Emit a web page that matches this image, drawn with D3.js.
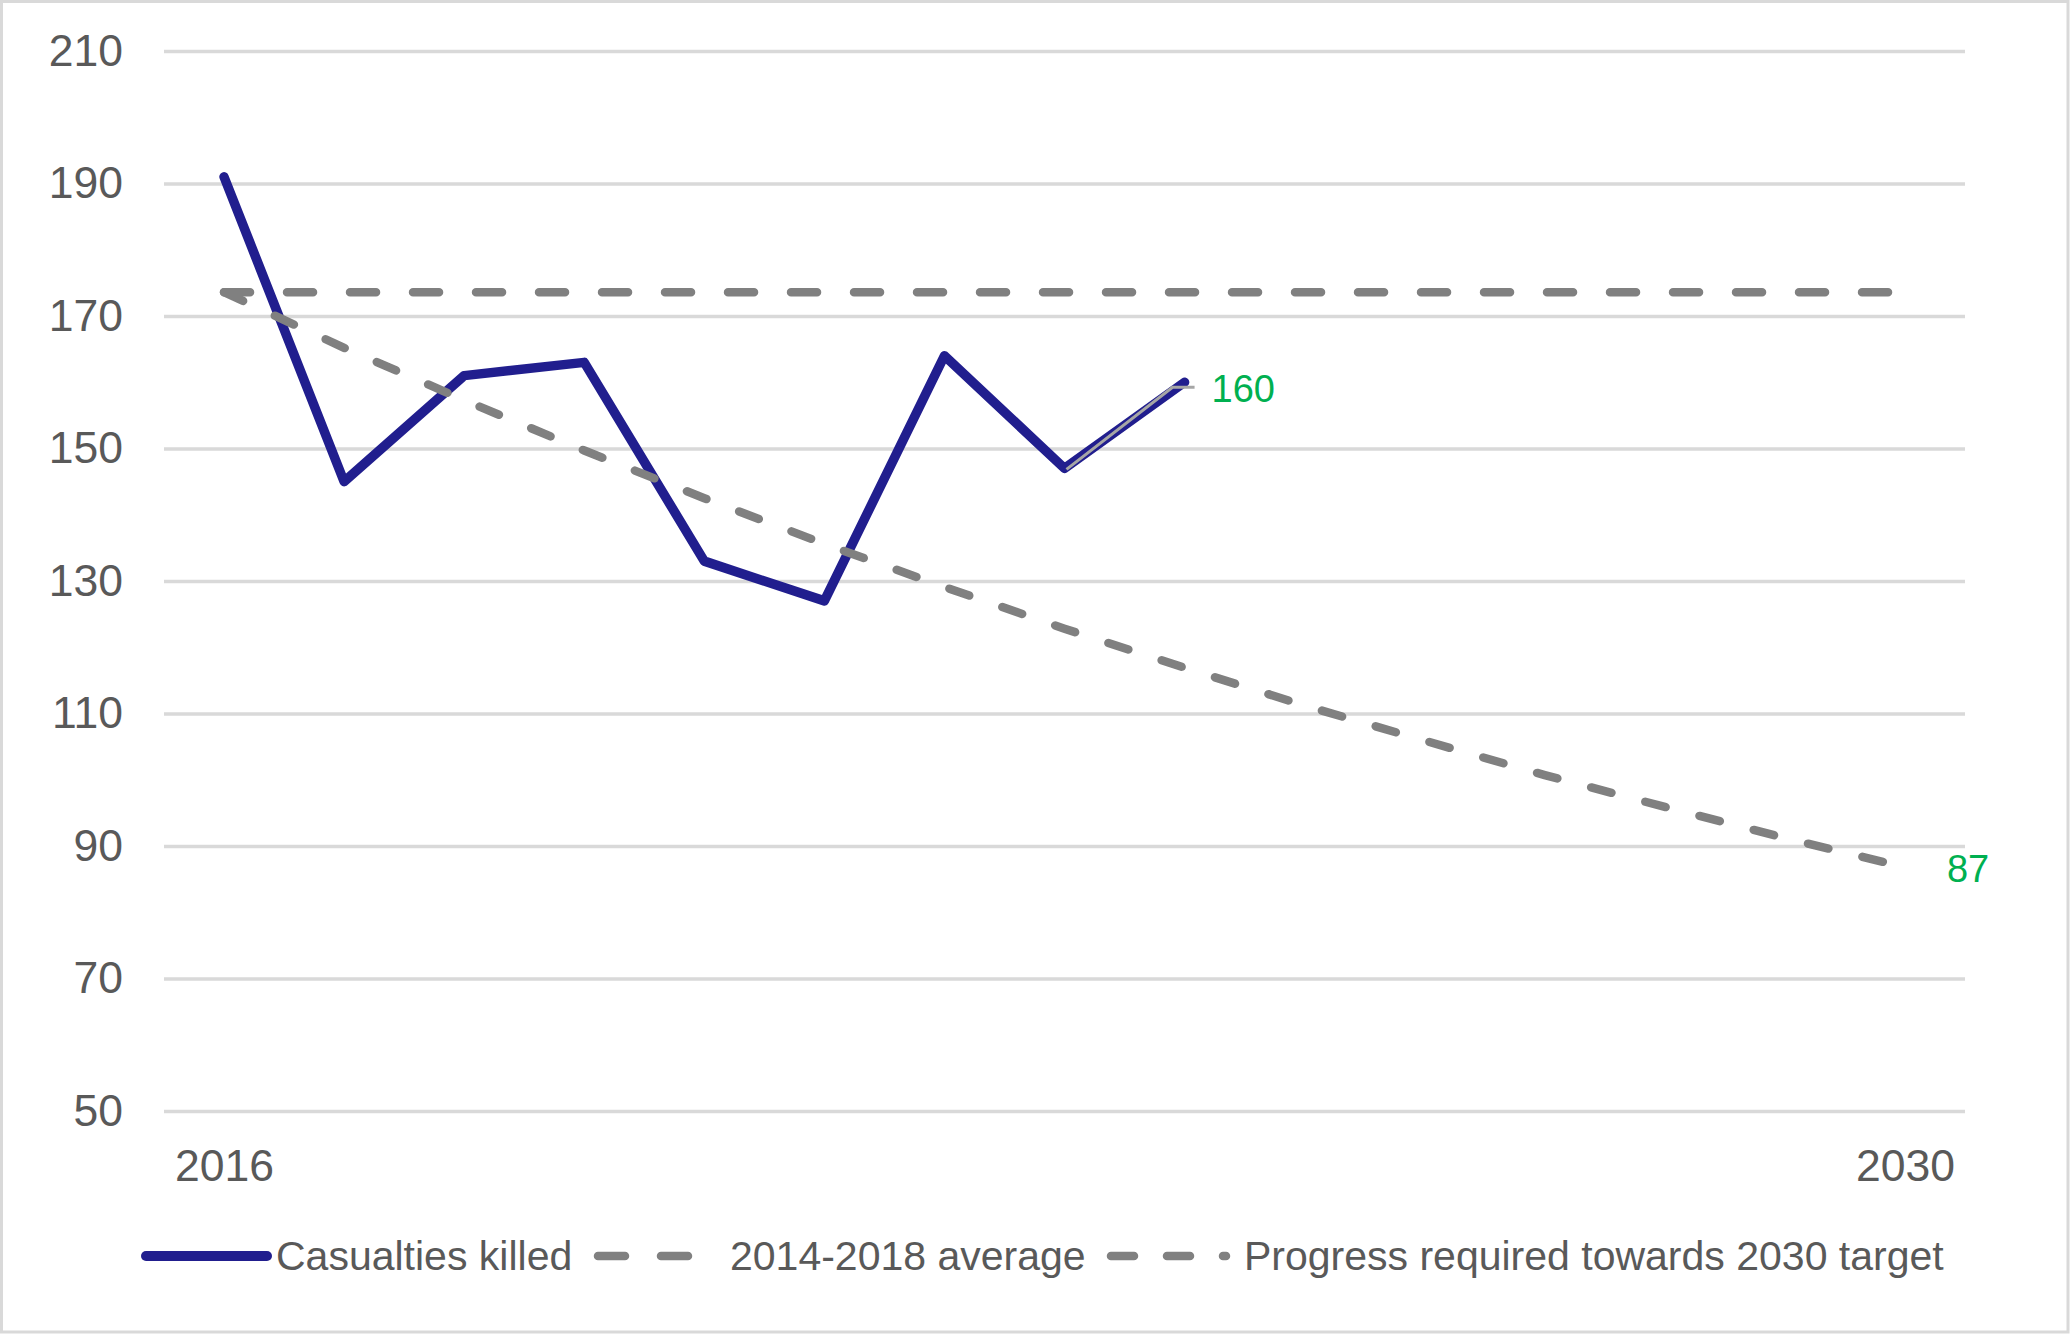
<!DOCTYPE html>
<html>
<head>
<meta charset="utf-8">
<script src="https://cdn.jsdelivr.net/npm/d3@7"></script>
<style>
  body { margin: 0; background: #fff; }
  svg { display: block; font-family: 'Liberation Sans', Arial, sans-serif; }
</style>
</head>
<body>
<svg id="chart"></svg>
<script>
// data
const years = ['2016','2017','2018','2019','2020','2021','2022','2023','2024',
               '2025','2026','2027','2028','2029','2030'];
const killed = [191, 145, 161, 163, 133, 127, 164, 147, 160];
const average = [173.6, 173.6, 173.6, 173.6, 173.6, 173.6, 173.6, 173.6,
                 173.6, 173.6, 173.6, 173.6, 173.6, 173.6, 173.6];
const progress = [173.6, 165.2, 157.3, 149.7, 142.5, 135.6, 129.1, 122.8,
                  116.9, 111.2, 105.9, 100.7, 95.9, 91.2, 86.8];
const yTicks = [50, 70, 90, 110, 130, 150, 170, 190, 210];
const xLabels = ['2016', '2030'];
const seriesNames = ['Casualties killed', '2014-2018 average', 'Progress required towards 2030 target'];

const W = 2071, H = 1335;
const plot = { left: 164, right: 1965, top: 51, bottom: 1111 };

const svg = d3.select('#chart').attr('width', W).attr('height', H);

// outer border
svg.append('rect')
  .attr('x', 1.5).attr('y', 1.5)
  .attr('width', W - 4.5).attr('height', H - 4.5)
  .attr('fill', '#fff').attr('stroke', '#d9d9d9').attr('stroke-width', 3);

const x = d3.scalePoint().domain(years).range([plot.left, plot.right]).padding(0.5);
const y = d3.scaleLinear().domain([50, 210]).range([plot.bottom, plot.top]);

// y axis + gridlines
const yAxis = svg.append('g')
  .attr('transform', `translate(${plot.left},0)`)
  .call(d3.axisLeft(y).tickValues(yTicks).tickSize(-(plot.right - plot.left)).tickPadding(41));
yAxis.select('.domain').remove();
yAxis.selectAll('.tick line').attr('stroke', '#d9d9d9').attr('stroke-width', 3.3);
yAxis.selectAll('.tick text')
  .attr('fill', '#595959').style('font-size', '44.5px')
  .style('font-family', "'Liberation Sans', Arial, sans-serif");

// x axis, only first and last year labelled
const xAxis = svg.append('g')
  .attr('transform', `translate(0,${plot.bottom})`)
  .call(d3.axisBottom(x).tickSize(0).tickPadding(38)
    .tickFormat(d => xLabels.includes(d) ? d : ''));
xAxis.select('.domain').remove();
xAxis.selectAll('.tick text')
  .attr('fill', '#595959').style('font-size', '44.5px')
  .style('font-family', "'Liberation Sans', Arial, sans-serif");

const line = d3.line().x((d, i) => x(years[i])).y(d => y(d));

const blue = '#211e8e', grey = '#808080', green = '#00b050';

// casualties killed
svg.append('path')
  .datum(killed)
  .attr('d', line)
  .attr('fill', 'none').attr('stroke', blue)
  .attr('stroke-width', 9.5).attr('stroke-linejoin', 'round').attr('stroke-linecap', 'round');

// thin leader on last segment to the label
const n = killed.length;
const lx0 = x(years[n - 2]) + 2, ly0 = y(killed[n - 2]) + 1;
const lx1 = x(years[n - 1]) - 12, ly1 = y(killed[n - 1]) + 5;
svg.append('path')
  .attr('d', `M${lx0},${ly0}L${lx1},${ly1}H${x(years[n - 1]) + 10}`)
  .attr('fill', 'none').attr('stroke', '#a6a6a6').attr('stroke-width', 3);

// average
svg.append('path')
  .datum(average)
  .attr('d', line)
  .attr('fill', 'none').attr('stroke', grey)
  .attr('stroke-width', 8.5).attr('stroke-linecap', 'round')
  .attr('stroke-dasharray', '26 37');

// progress required
svg.append('path')
  .datum(progress)
  .attr('d', line)
  .attr('fill', 'none').attr('stroke', grey)
  .attr('stroke-width', 8.5).attr('stroke-linecap', 'round')
  .attr('stroke-dasharray', '21 35');

// data labels
svg.append('text')
  .attr('x', x(years[n - 1]) + 27).attr('y', y(killed[n - 1]) + 10)
  .attr('dominant-baseline', 'middle')
  .attr('fill', green).style('font-size', '38px')
  .text(killed[n - 1]);
svg.append('text')
  .attr('x', x(years[years.length - 1]) + 42).attr('y', y(progress[progress.length - 1]) + 5)
  .attr('dominant-baseline', 'middle')
  .attr('fill', green).style('font-size', '38px')
  .text(Math.round(progress[progress.length - 1]));

// legend
const legY = 1256;
const legend = [
  { name: seriesNames[0], x0: 146, x1: 267, tx: 276, color: blue, width: 10, dash: null },
  { name: seriesNames[1], x0: 598, x1: 718, tx: 730, color: grey, width: 8.5, dash: '27 36' },
  { name: seriesNames[2], x0: 1111, x1: 1226, tx: 1244, color: grey, width: 8.5, dash: '23 33' }
];
const lg = svg.append('g');
legend.forEach(d => {
  lg.append('line')
    .attr('x1', d.x0).attr('x2', d.x1).attr('y1', legY).attr('y2', legY)
    .attr('stroke', d.color).attr('stroke-width', d.width).attr('stroke-linecap', 'round')
    .attr('stroke-dasharray', d.dash);
  lg.append('text')
    .attr('x', d.tx).attr('y', legY + 14)
    .attr('fill', '#595959').style('font-size', '41px')
    .text(d.name);
});
</script>
</body>
</html>
